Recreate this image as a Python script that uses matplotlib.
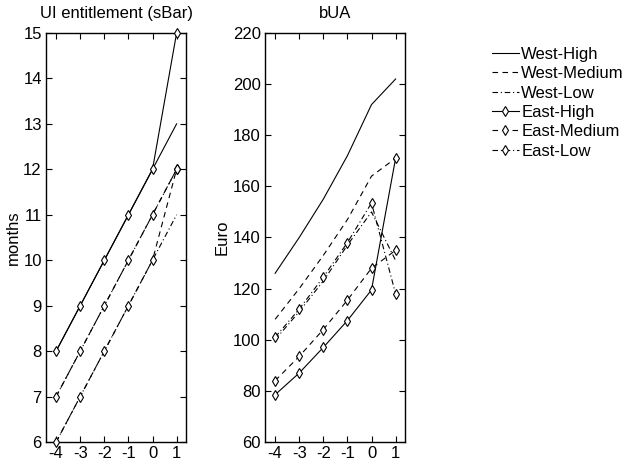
import matplotlib
matplotlib.use("Agg")
import matplotlib.pyplot as plt

plt.rcParams['font.family'] = ['Liberation Sans', 'DejaVu Sans']
plt.rcParams['font.size'] = 12
plt.rcParams['axes.unicode_minus'] = False

# horizon (years relative to reform)
x = [-4, -3, -2, -1, 0, 1]

series_names = ['West-High', 'West-Medium', 'West-Low',
                'East-High', 'East-Medium', 'East-Low']

# UI entitlement (sBar), months
sbar_west_high = [8, 9, 10, 11, 12, 13]
sbar_west_medium = [7, 8, 9, 10, 11, 12]
sbar_west_low = [6, 7, 8, 9, 10, 11]
sbar_east_high = [8, 9, 10, 11, 12, 15]
sbar_east_medium = [6, 7, 8, 9, 10, 12]
sbar_east_low = [7, 8, 9, 10, 11, 12]

# bUA, Euro
bua_west_high = [126, 140, 155, 172, 192, 202]
bua_west_medium = [108, 120, 133, 147, 164, 171]
bua_west_low = [100, 111, 123, 137, 150, 131]
bua_east_high = [78.5, 87, 97, 107.5, 119.5, 171]
bua_east_medium = [84, 93.5, 104, 115.5, 128, 135]
bua_east_low = [101, 112, 124.5, 138, 153.5, 118]

styles = [
    dict(ls='-', marker=None),
    dict(ls=(0, (5, 4)), marker=None),
    dict(ls=(0, (5, 2.5, 1, 2.5)), marker=None),
    dict(ls='-', marker='d'),
    dict(ls=(0, (5, 4)), marker='d'),
    dict(ls=(0, (5, 2.5, 1, 2.5)), marker='d'),
]


def draw_panel(ax, data, title, ylabel, ylim, yticks):
    for vals, st, name in zip(data, styles, series_names):
        ax.plot(x, vals, color='black', lw=0.8, linestyle=st['ls'],
                marker=st['marker'], markersize=5.5, markerfacecolor='white',
                markeredgecolor='black', markeredgewidth=0.8,
                label=name, clip_on=False, zorder=3)
    ax.set_xlim(-4.42, 1.39)
    ax.set_ylim(*ylim)
    ax.set_xticks(x)
    ax.set_yticks(yticks)
    ax.tick_params(direction='in', length=4, width=0.8, top=True, right=True,
                   labelsize=12, pad=3)
    for sp in ax.spines.values():
        sp.set_linewidth(1.0)
    ax.set_title(title, fontsize=12, pad=10.5)
    ax.set_ylabel(ylabel, fontsize=12, labelpad=2)


fig = plt.figure(figsize=(6.37, 4.62), dpi=100)
ax1 = fig.add_axes([46 / 637, 20 / 462, 140 / 637, 409 / 462])
ax2 = fig.add_axes([265 / 637, 20 / 462, 140 / 637, 409 / 462])

draw_panel(ax1, [sbar_west_high, sbar_west_medium, sbar_west_low,
                 sbar_east_high, sbar_east_medium, sbar_east_low],
           'UI entitlement (sBar)', 'months', (6, 15), range(6, 16))
draw_panel(ax2, [bua_west_high, bua_west_medium, bua_west_low,
                 bua_east_high, bua_east_medium, bua_east_low],
           'bUA', 'Euro', (60, 220), range(60, 221, 20))

handles, labels = ax2.get_legend_handles_labels()
fig.legend(handles, labels, loc='upper left', bbox_to_anchor=(492 / 637, 1 - 47 / 462),
           frameon=False, fontsize=12, handlelength=1.6, handletextpad=0.15,
           labelspacing=0.26, borderpad=0, borderaxespad=0)

fig.savefig('out.png', dpi=100, facecolor='white')
